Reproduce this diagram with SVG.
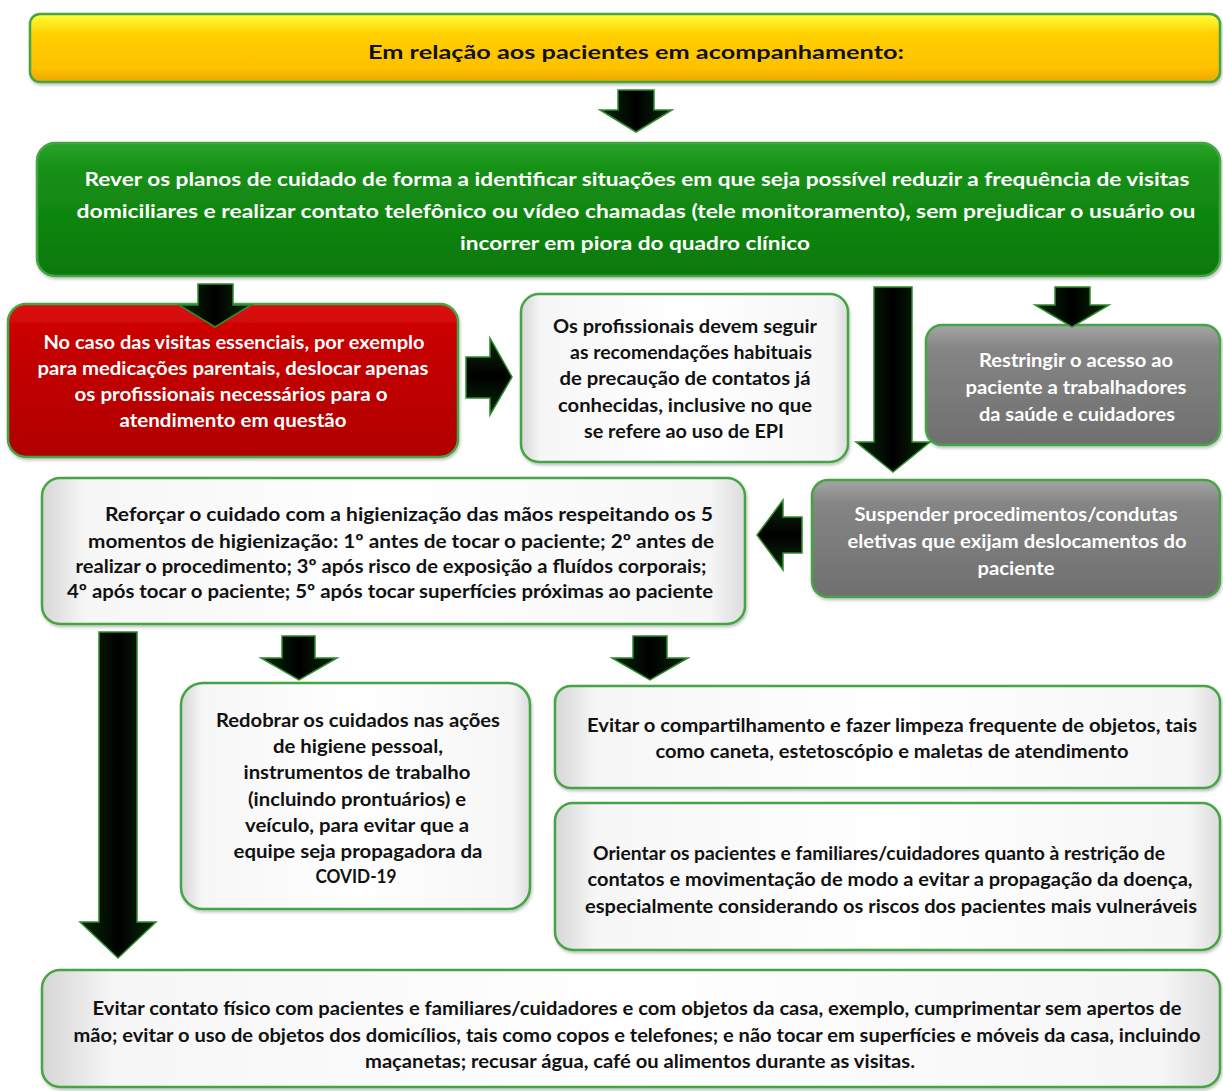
<svg xmlns="http://www.w3.org/2000/svg" width="1223" height="1091" viewBox="0 0 1223 1091">
<defs>
<linearGradient id="gYel" x1="0" y1="0" x2="0" y2="1">
<stop offset="0" stop-color="#ffff3a"/><stop offset="0.3" stop-color="#ffd000"/><stop offset="0.8" stop-color="#ffc000"/><stop offset="1" stop-color="#e8a800"/>
</linearGradient>
<linearGradient id="gGreen" x1="0" y1="0" x2="0" y2="1">
<stop offset="0" stop-color="#2aa52a"/><stop offset="0.2" stop-color="#159015"/><stop offset="1" stop-color="#0b780b"/>
</linearGradient>
<linearGradient id="gRed" x1="0" y1="0" x2="0" y2="1">
<stop offset="0" stop-color="#e01010"/><stop offset="0.2" stop-color="#c80000"/><stop offset="1" stop-color="#b00000"/>
</linearGradient>
<linearGradient id="gGray" x1="0" y1="0" x2="0" y2="1">
<stop offset="0" stop-color="#a5a5a5"/><stop offset="0.2" stop-color="#858585"/><stop offset="1" stop-color="#6f6f6f"/>
</linearGradient>
<linearGradient id="gWhite" x1="0" y1="0" x2="1" y2="0">
<stop offset="0" stop-color="#d6d6d6"/><stop offset="0.06" stop-color="#f6f6f6"/><stop offset="0.5" stop-color="#ffffff"/><stop offset="0.95" stop-color="#f6f6f6"/><stop offset="1" stop-color="#dcdcdc"/>
</linearGradient>
<linearGradient id="gArrV" x1="0" y1="0" x2="1" y2="0">
<stop offset="0" stop-color="#0a2a0a"/><stop offset="0.5" stop-color="#000"/><stop offset="1" stop-color="#0a2a0a"/>
</linearGradient>
<linearGradient id="gArrH" x1="0" y1="0" x2="0" y2="1">
<stop offset="0" stop-color="#0a2a0a"/><stop offset="0.5" stop-color="#000"/><stop offset="1" stop-color="#0a2a0a"/>
</linearGradient>
<filter id="sh" x="-5%" y="-5%" width="110%" height="115%">
<feDropShadow dx="1" dy="2" stdDeviation="1.5" flood-color="#000" flood-opacity="0.25"/>
</filter>
</defs>
<style>
.box{stroke:#45a545;stroke-width:2.5;filter:url(#sh)}
.yel{fill:url(#gYel)}
.grn{fill:url(#gGreen)}
.red{fill:url(#gRed)}
.gry{fill:url(#gGray)}
.wht{fill:url(#gWhite)}
text{font-family:Lato,"Open Sans","DejaVu Sans",sans-serif;font-weight:bold;text-anchor:middle;font-size:18.5px}
.dk{fill:#111}
.lt{fill:#fff}
.av{fill:url(#gArrV);stroke:#2e8b2e;stroke-width:1.5;stroke-linejoin:miter}
.ah{fill:url(#gArrH);stroke:#2e8b2e;stroke-width:1.5;stroke-linejoin:miter}
</style>
<rect width="1223" height="1091" fill="#fff"/>

<g id="n_top">
<rect class="box yel" x="30" y="14" width="1190" height="68" rx="10"/>
<text class="dk" x="636" y="59" font-size="21.5" lengthAdjust="spacingAndGlyphs" textLength="536">Em relação aos pacientes em acompanhamento:</text>
</g>

<g id="n_rever">
<rect class="box grn" x="37" y="143" width="1183" height="133" rx="18"/>
<text class="lt" x="637" y="186" font-size="20" lengthAdjust="spacingAndGlyphs" textLength="1105">Rever os planos de cuidado de forma a identificar situações em que seja possível reduzir a frequência de visitas</text>
<text class="lt" x="636" y="218" font-size="20" lengthAdjust="spacingAndGlyphs" textLength="1119">domiciliares e realizar contato telefônico ou vídeo chamadas (tele monitoramento), sem prejudicar o usuário ou</text>
<text class="lt" x="635" y="250" font-size="20" lengthAdjust="spacingAndGlyphs" textLength="350">incorrer em piora do quadro clínico</text>
</g>

<g id="n_red">
<rect class="box red" x="8" y="304" width="450" height="153" rx="18"/>
<text class="lt" x="234" y="349" lengthAdjust="spacingAndGlyphs" textLength="381">No caso das visitas essenciais, por exemplo</text>
<text class="lt" x="233" y="375" lengthAdjust="spacingAndGlyphs" textLength="391">para medicações parentais, deslocar apenas</text>
<text class="lt" x="231" y="401" lengthAdjust="spacingAndGlyphs" textLength="313">os profissionais necessários para o</text>
<text class="lt" x="233" y="427" lengthAdjust="spacingAndGlyphs" textLength="227">atendimento em questão</text>
</g>

<g id="n_prof">
<rect class="box wht" x="521" y="294" width="327" height="168" rx="18"/>
<text class="dk" x="685" y="333" lengthAdjust="spacingAndGlyphs" textLength="264">Os profissionais devem seguir</text>
<text class="dk" x="691" y="359" lengthAdjust="spacingAndGlyphs" textLength="242">as recomendações habituais</text>
<text class="dk" x="685" y="385" lengthAdjust="spacingAndGlyphs" textLength="251">de precaução de contatos já</text>
<text class="dk" x="685" y="412" lengthAdjust="spacingAndGlyphs" textLength="254">conhecidas, inclusive no que</text>
<text class="dk" x="684" y="438" lengthAdjust="spacingAndGlyphs" textLength="200">se refere ao uso de EPI</text>
</g>

<g id="n_restringir">
<rect class="box gry" x="926" y="325" width="294" height="120" rx="16"/>
<text class="lt" x="1076" y="367" lengthAdjust="spacingAndGlyphs" textLength="194">Restringir o acesso ao</text>
<text class="lt" x="1076" y="394" lengthAdjust="spacingAndGlyphs" textLength="221">paciente a trabalhadores</text>
<text class="lt" x="1077" y="421" font-size="16" lengthAdjust="spacingAndGlyphs" textLength="196">da saúde e cuidadores</text>
</g>

<g id="n_suspender">
<rect class="box gry" x="812" y="480" width="408" height="117" rx="16"/>
<text class="lt" x="1016" y="521" lengthAdjust="spacingAndGlyphs" textLength="323">Suspender procedimentos/condutas</text>
<text class="lt" x="1017" y="548" lengthAdjust="spacingAndGlyphs" textLength="339">eletivas que exijam deslocamentos do</text>
<text class="lt" x="1016" y="575" lengthAdjust="spacingAndGlyphs" textLength="77">paciente</text>
</g>

<g id="n_reforcar">
<rect class="box wht" x="42" y="478" width="703" height="146" rx="18"/>
<text class="dk" x="409" y="521" lengthAdjust="spacingAndGlyphs" textLength="608">Reforçar o cuidado com a higienização das mãos respeitando os 5</text>
<text class="dk" x="401" y="548" lengthAdjust="spacingAndGlyphs" textLength="626">momentos de higienização: 1º antes de tocar o paciente; 2º antes de</text>
<text class="dk" x="391" y="573" lengthAdjust="spacingAndGlyphs" textLength="631">realizar o procedimento; 3º após risco de exposição a fluídos corporais;</text>
<text class="dk" x="390" y="598" lengthAdjust="spacingAndGlyphs" textLength="646">4º após tocar o paciente; 5º após tocar superfícies próximas ao paciente</text>
</g>

<g id="n_redobrar">
<rect class="box wht" x="181" y="683" width="349" height="226" rx="22"/>
<text class="dk" x="358" y="727" lengthAdjust="spacingAndGlyphs" textLength="284">Redobrar os cuidados nas ações</text>
<text class="dk" x="358" y="753" lengthAdjust="spacingAndGlyphs" textLength="170">de higiene pessoal,</text>
<text class="dk" x="357" y="779" lengthAdjust="spacingAndGlyphs" textLength="227">instrumentos de trabalho</text>
<text class="dk" x="357" y="806" lengthAdjust="spacingAndGlyphs" textLength="218">(incluindo prontuários) e</text>
<text class="dk" x="357" y="832" lengthAdjust="spacingAndGlyphs" textLength="224">veículo, para evitar que a</text>
<text class="dk" x="358" y="858" lengthAdjust="spacingAndGlyphs" textLength="249">equipe seja propagadora da</text>
<text class="dk" x="356" y="883" lengthAdjust="spacingAndGlyphs" textLength="81">COVID-19</text>
</g>

<g id="n_evitar_obj">
<rect class="box wht" x="555" y="686" width="665" height="102" rx="16"/>
<text class="dk" x="892" y="732" lengthAdjust="spacingAndGlyphs" textLength="610">Evitar o compartilhamento e fazer limpeza frequente de objetos, tais</text>
<text class="dk" x="892" y="758" lengthAdjust="spacingAndGlyphs" textLength="473">como caneta, estetoscópio e maletas de atendimento</text>
</g>

<g id="n_orientar">
<rect class="box wht" x="555" y="803" width="665" height="147" rx="18"/>
<text class="dk" x="879" y="860" lengthAdjust="spacingAndGlyphs" textLength="572">Orientar os pacientes e familiares/cuidadores quanto à restrição de</text>
<text class="dk" x="890" y="886" lengthAdjust="spacingAndGlyphs" textLength="605">contatos e movimentação de modo a evitar a propagação da doença,</text>
<text class="dk" x="891" y="913" lengthAdjust="spacingAndGlyphs" textLength="612">especialmente considerando os riscos dos pacientes mais vulneráveis</text>
</g>

<g id="n_evitar_contato">
<rect class="box wht" x="42" y="970" width="1178" height="117" rx="18"/>
<text class="dk" x="637" y="1015" font-size="18" lengthAdjust="spacingAndGlyphs" textLength="1089">Evitar contato físico com pacientes e familiares/cuidadores e com objetos da casa, exemplo, cumprimentar sem apertos de</text>
<text class="dk" x="637" y="1042" font-size="18" lengthAdjust="spacingAndGlyphs" textLength="1127">mão; evitar o uso de objetos dos domicílios, tais como copos e telefones; e não tocar em superfícies e móveis da casa, incluindo</text>
<text class="dk" x="640" y="1068" font-size="18" lengthAdjust="spacingAndGlyphs" textLength="550">maçanetas; recusar água, café ou alimentos durante as visitas.</text>
</g>

<g id="connectors">
<polygon class="av" points="618,90 654,90 654,110 672,110 636,132 600,110 618,110"/>
<polygon class="av" points="198,284 233,284 233,305 251,305 215,327 179,305 198,305"/>
<polygon class="ah" points="466,357 490,357 490,338 512,377 490,415 490,398 466,398"/>
<polygon class="av" points="874,287 912,287 912,442 930,442 893,472 856,442 874,442"/>
<polygon class="av" points="1055,287 1090,287 1090,305 1109,305 1072,327 1035,305 1055,305"/>
<polygon class="ah" points="802,517 802,553 783,553 783,570 757,535 783,500 783,517"/>
<polygon class="av" points="99,632 137,632 137,922 156,922 118,958 80,922 99,922"/>
<polygon class="av" points="282,636 315,636 315,658 337,658 299,680 261,658 282,658"/>
<polygon class="av" points="633,636 667,636 667,658 688,658 650,680 612,658 633,658"/>
</g>
</svg>
